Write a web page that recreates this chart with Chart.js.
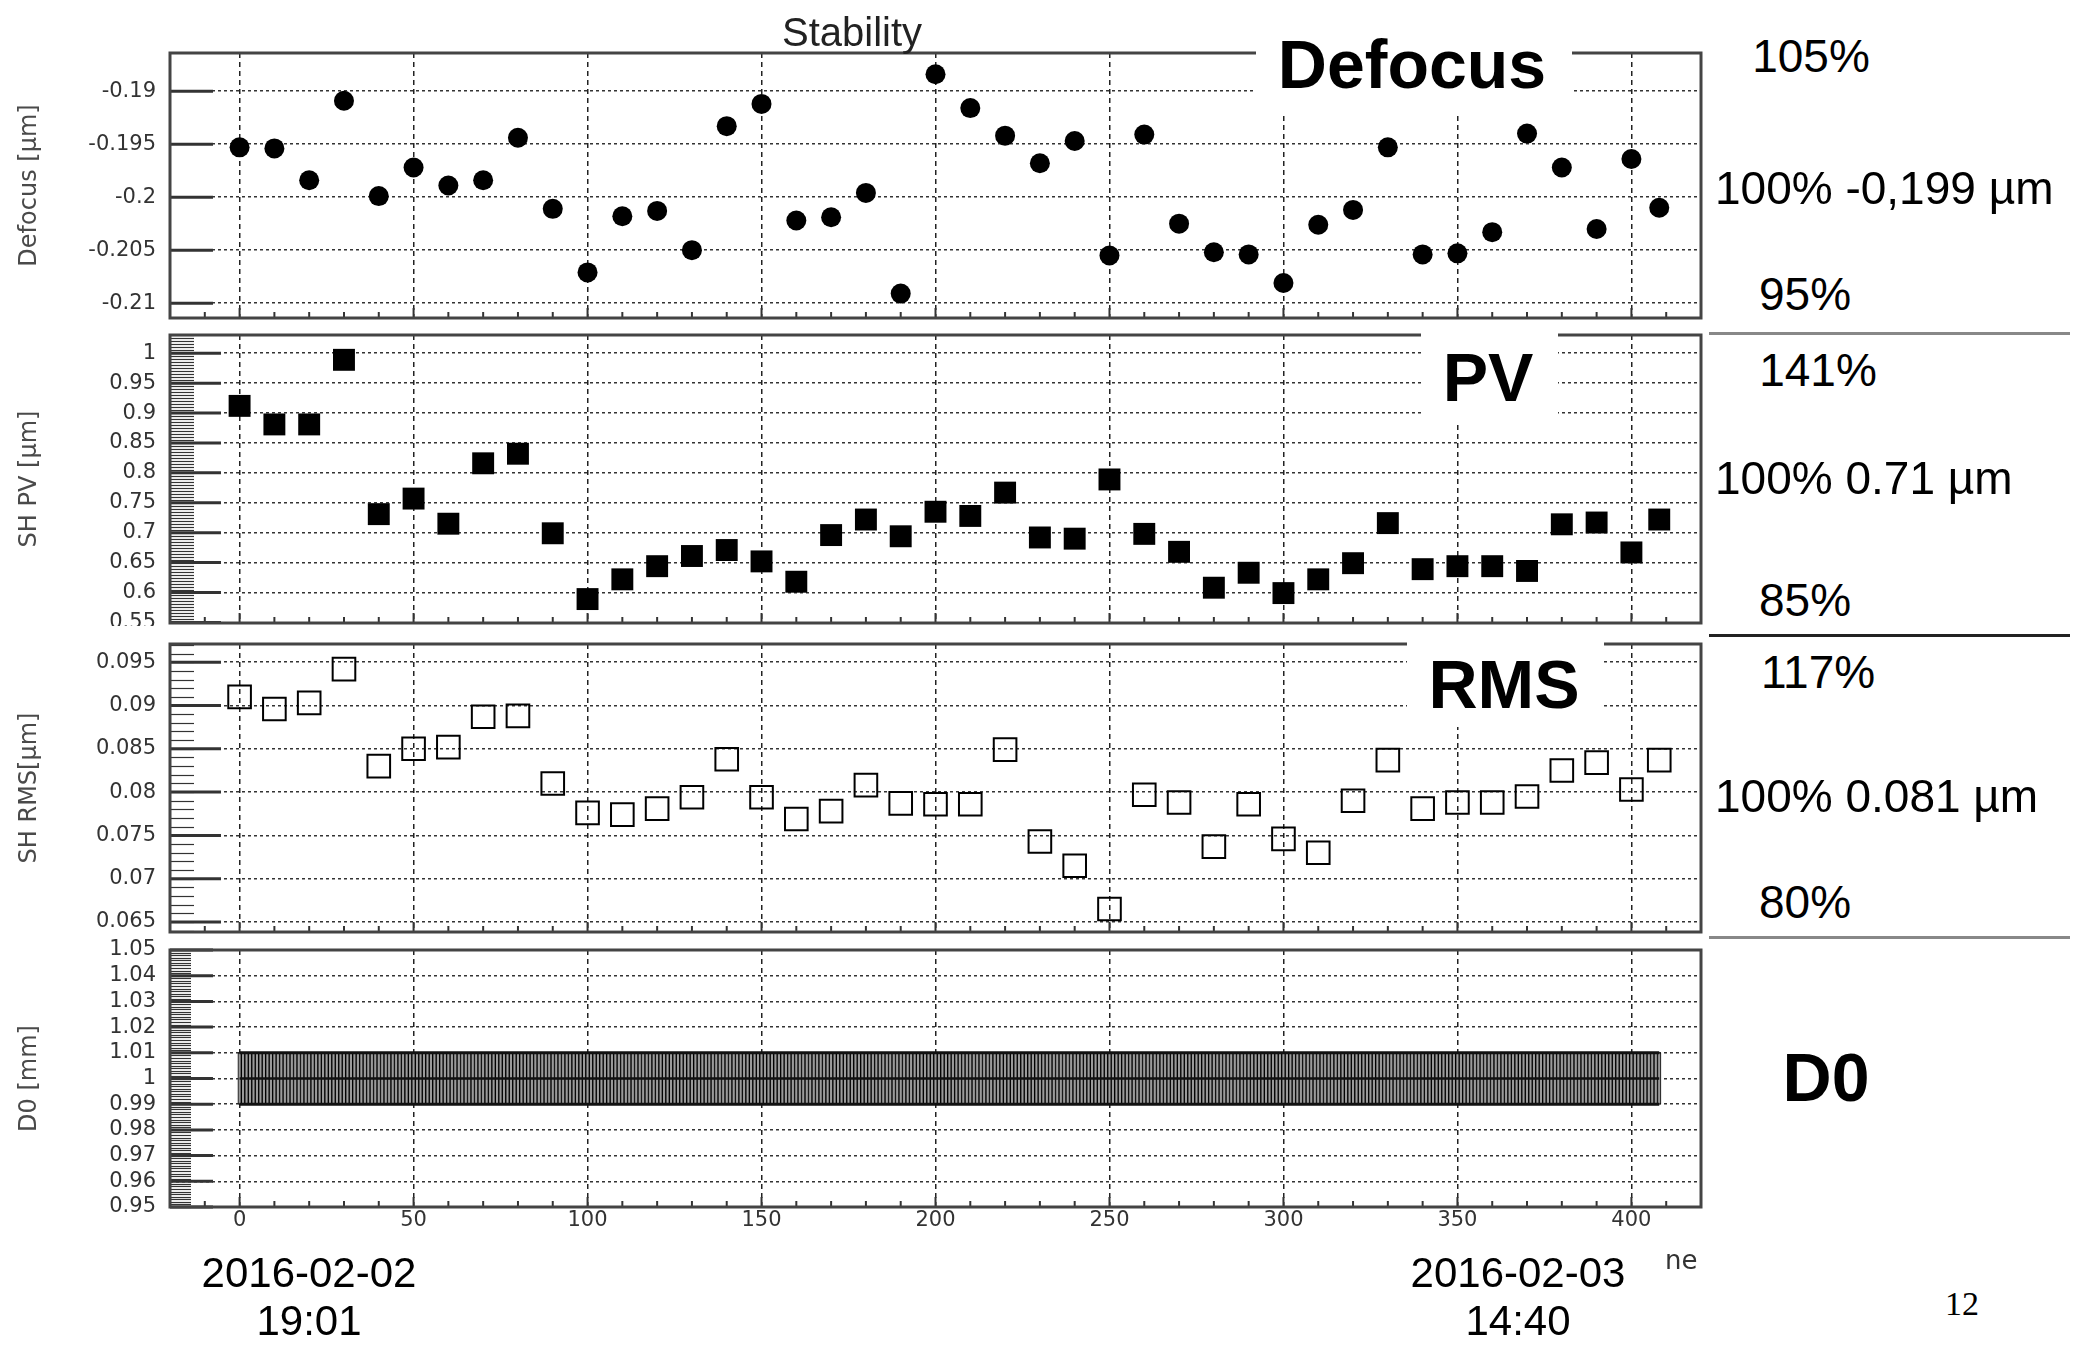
<!DOCTYPE html>
<html>
<head>
<meta charset="utf-8">
<script src="https://cdn.jsdelivr.net/npm/chart.js@4.4.1/dist/chart.umd.min.js"></script>
<style>
  body { margin: 0; background: #fff; width: 2078px; height: 1350px; position: relative; overflow: hidden;
         font-family: 'Liberation Sans', Arial, sans-serif; }
  canvas { position: absolute; left: 0; }
  .t { position: absolute; white-space: nowrap; color: #000; line-height: 1; transform: translate(-50%, -50%); }
  .l { position: absolute; white-space: nowrap; color: #000; line-height: 1; transform: translateY(-50%); }
  .box { position: absolute; background: #fff; }
  .big { font-weight: bold; font-size: 68px; }
  .ann { font-size: 46px; }
  .sep { position: absolute; height: 3px; background: #888; }
</style>
</head>
<body>
<canvas id="cDefocus" width="1720" height="305" style="top:33px"></canvas>
<canvas id="cPV" width="1720" height="328" style="top:315px"></canvas>
<canvas id="cRMS" width="1720" height="328" style="top:624px"></canvas>
<canvas id="cD0" width="1720" height="322" style="top:930px"></canvas>

<!-- pad edge hides the lower half of the last PV label, as in the original -->
<div class="box" style="left:40px; top:626px; width:128px; height:15px;"></div>

<div class="t" style="left:852px; top:32px; font-size:40px; color:#222;">Stability</div>

<div class="box" style="left:1256px; top:18px; width:316px; height:95px;"></div>
<div class="t big" style="left:1412px; top:64px;">Defocus</div>
<div class="box" style="left:1421px; top:322px; width:137px; height:100px;"></div>
<div class="t big" style="left:1488px; top:377px;">PV</div>
<div class="box" style="left:1407px; top:632px; width:197px; height:95px;"></div>
<div class="t big" style="left:1504px; top:684px;">RMS</div>
<div class="t big" style="left:1826px; top:1077px;">D0</div>

<div class="t ann" style="left:1811px; top:56px;">105%</div>
<div class="l ann" style="left:1715px; top:188px;">100% -0,199 µm</div>
<div class="t ann" style="left:1805px; top:294px;">95%</div>
<div class="sep" style="left:1709px; top:332px; width:361px;"></div>
<div class="t ann" style="left:1818px; top:370px;">141%</div>
<div class="l ann" style="left:1715px; top:478px;">100% 0.71 µm</div>
<div class="t ann" style="left:1805px; top:600px;">85%</div>
<div class="sep" style="left:1709px; top:634px; width:361px; background:#222;"></div>
<div class="t ann" style="left:1818px; top:672px;">117%</div>
<div class="l ann" style="left:1715px; top:796px;">100% 0.081 µm</div>
<div class="t ann" style="left:1805px; top:902px;">80%</div>
<div class="sep" style="left:1709px; top:936px; width:361px;"></div>

<div class="t" style="left:309px; top:1273px; font-size:42px;">2016-02-02</div>
<div class="t" style="left:309px; top:1321px; font-size:42px;">19:01</div>
<div class="t" style="left:1518px; top:1273px; font-size:42px;">2016-02-03</div>
<div class="t" style="left:1518px; top:1321px; font-size:42px;">14:40</div>
<div style="position:absolute; left:1665px; top:1253px; height:20px; overflow:hidden; width:44px;">
  <div style="font-family:'DejaVu Sans'; font-size:26px; line-height:26px; margin-top:-6px; color:#333;">ne</div>
</div>
<div class="t" style="left:1962px; top:1304px; font-size:34px; font-family:'Liberation Serif', serif;">12</div>

<script>
// measurement index (every 10th entry shown in the top three pads)
const timeIndex = [0, 10, 20, 30, 40, 50, 60, 70, 80, 90, 100, 110, 120, 130, 140, 150, 160, 170, 180, 190,
                   200, 210, 220, 230, 240, 250, 260, 270, 280, 290, 300, 310, 320, 330, 340, 350, 360, 370, 380, 390,
                   400, 408];

const defocus = [-0.1953, -0.1954, -0.1984, -0.1909, -0.1999, -0.1972, -0.1989, -0.1984, -0.1944, -0.2011,
                 -0.2071, -0.2018, -0.2013, -0.2050, -0.1933, -0.1912, -0.2022, -0.2019, -0.1996, -0.2091,
                 -0.1884, -0.1916, -0.1942, -0.1968, -0.1947, -0.2055, -0.1941, -0.2025, -0.2052, -0.2054,
                 -0.2081, -0.2026, -0.2012, -0.1953, -0.2054, -0.2053, -0.2033, -0.1940, -0.1972, -0.2030,
                 -0.1964, -0.2010];

const shPV = [0.912, 0.881, 0.881, 0.989, 0.731, 0.757, 0.715, 0.816, 0.832, 0.699,
              0.589, 0.622, 0.644, 0.661, 0.671, 0.652, 0.618, 0.696, 0.722, 0.694,
              0.735, 0.728, 0.767, 0.692, 0.690, 0.789, 0.698, 0.668, 0.608, 0.633,
              0.599, 0.622, 0.649, 0.716, 0.639, 0.644, 0.644, 0.636, 0.714, 0.717,
              0.667, 0.722];

const shRMS = [0.0910, 0.0896, 0.0903, 0.0942, 0.0830, 0.0850, 0.0852, 0.0887, 0.0888, 0.0810,
               0.0776, 0.0774, 0.0781, 0.0794, 0.0838, 0.0794, 0.0769, 0.0778, 0.0808, 0.0787,
               0.0786, 0.0786, 0.0849, 0.0743, 0.0715, 0.0665, 0.0797, 0.0788, 0.0737, 0.0786,
               0.0746, 0.0730, 0.0790, 0.0837, 0.0781, 0.0788, 0.0788, 0.0795, 0.0825, 0.0834,
               0.0803, 0.0837];

// D0, one value per measurement (index 0..408), error +-0.01
const d0Values = [
  1,1,1,1,1,1,1,1,1,1,1,1,1,1,1,1,1,1,1,1,
  1,1,1,1,1,1,1,1,1,1,1,1,1,1,1,1,1,1,1,1,
  1,1,1,1,1,1,1,1,1,1,1,1,1,1,1,1,1,1,1,1,
  1,1,1,1,1,1,1,1,1,1,1,1,1,1,1,1,1,1,1,1,
  1,1,1,1,1,1,1,1,1,1,1,1,1,1,1,1,1,1,1,1,
  1,1,1,1,1,1,1,1,1,1,1,1,1,1,1,1,1,1,1,1,
  1,1,1,1,1,1,1,1,1,1,1,1,1,1,1,1,1,1,1,1,
  1,1,1,1,1,1,1,1,1,1,1,1,1,1,1,1,1,1,1,1,
  1,1,1,1,1,1,1,1,1,1,1,1,1,1,1,1,1,1,1,1,
  1,1,1,1,1,1,1,1,1,1,1,1,1,1,1,1,1,1,1,1,
  1,1,1,1,1,1,1,1,1,1,1,1,1,1,1,1,1,1,1,1,
  1,1,1,1,1,1,1,1,1,1,1,1,1,1,1,1,1,1,1,1,
  1,1,1,1,1,1,1,1,1,1,1,1,1,1,1,1,1,1,1,1,
  1,1,1,1,1,1,1,1,1,1,1,1,1,1,1,1,1,1,1,1,
  1,1,1,1,1,1,1,1,1,1,1,1,1,1,1,1,1,1,1,1,
  1,1,1,1,1,1,1,1,1,1,1,1,1,1,1,1,1,1,1,1,
  1,1,1,1,1,1,1,1,1,1,1,1,1,1,1,1,1,1,1,1,
  1,1,1,1,1,1,1,1,1,1,1,1,1,1,1,1,1,1,1,1,
  1,1,1,1,1,1,1,1,1,1,1,1,1,1,1,1,1,1,1,1,
  1,1,1,1,1,1,1,1,1,1,1,1,1,1,1,1,1,1,1,1,
  1,1,1,1,1,1,1,1,1
];
const d0Error = 0.01;

// tick labels
const xTicks = [0, 50, 100, 150, 200, 250, 300, 350, 400];
const defocusTicks = [-0.21, -0.205, -0.2, -0.195, -0.19];
const pvTicks = [0.55, 0.6, 0.65, 0.7, 0.75, 0.8, 0.85, 0.9, 0.95, 1];
const rmsTicks = [0.065, 0.07, 0.075, 0.08, 0.085, 0.09, 0.095];
const d0Ticks = [0.95, 0.96, 0.97, 0.98, 0.99, 1, 1.01, 1.02, 1.03, 1.04, 1.05];

const tickFont = { family: 'DejaVu Sans', size: 21 };
const fmt = v => String(Number(v.toFixed(4)));

// ROOT-like frame with ticks drawn inside the pad
const frameTicks = {
  id: 'frameTicks',
  afterDraw(chart, args, opts) {
    const { ctx, chartArea: a, scales: { x, y } } = chart;
    ctx.save();
    ctx.strokeStyle = '#333';
    ctx.lineWidth = 2;
    for (let k = -1; k <= 41; k++) {
      const px = x.getPixelForValue(k * 10);
      const len = k % 5 === 0 ? 10 : 6;
      ctx.beginPath(); ctx.moveTo(px, a.bottom); ctx.lineTo(px, a.bottom - len); ctx.stroke();
    }
    if (opts.minor) {
      ctx.lineWidth = 1.2;
      const k0 = Math.ceil(y.min / opts.minor - 1e-6), k1 = Math.floor(y.max / opts.minor + 1e-6);
      for (let k = k0; k <= k1; k++) {
        const py = Math.round(y.getPixelForValue(k * opts.minor)) + 0.5;
        ctx.beginPath(); ctx.moveTo(a.left, py); ctx.lineTo(a.left + opts.minorLen, py); ctx.stroke();
      }
    }
    ctx.lineWidth = 3;
    y.ticks.forEach(t => {
      const py = y.getPixelForValue(t.value);
      ctx.beginPath(); ctx.moveTo(a.left, py); ctx.lineTo(a.left + opts.majorLen, py); ctx.stroke();
    });
    ctx.strokeStyle = '#444';
    ctx.strokeRect(a.left, a.top, a.right - a.left, a.bottom - a.top);
    ctx.restore();
  }
};

function makePanel(cfg) {
  return new Chart(document.getElementById(cfg.id), {
    type: cfg.type || 'scatter',
    data: { datasets: cfg.datasets },
    options: {
      responsive: false,
      animation: false,
      layout: { padding: { left: 0, right: 19, top: 20, bottom: cfg.padBottom } },
      plugins: {
        legend: { display: false },
        tooltip: { enabled: false },
        frameTicks: { minor: cfg.minor, minorLen: cfg.minorLen, majorLen: cfg.majorLen }
      },
      scales: {
        x: {
          type: 'linear', min: -20, max: 420, offset: false,
          afterBuildTicks: s => { s.ticks = xTicks.map(v => ({ value: v })); },
          afterFit: s => { s.height = cfg.xHeight; s.paddingLeft = 0; s.paddingRight = 0; },
          grid: { color: '#222', lineWidth: 1.5, drawTicks: false, offset: false },
          border: { display: false, dash: [5, 4] },
          ticks: { display: !!cfg.showX, font: tickFont, color: '#333', padding: 1, maxRotation: 0, autoSkip: false,
                   callback: v => v }
        },
        y: {
          type: 'linear', min: cfg.yMin, max: cfg.yMax,
          afterBuildTicks: s => { s.ticks = cfg.yTicks.map(v => ({ value: v })); },
          afterFit: s => { s.width = 170; s.paddingTop = 0; s.paddingBottom = 0; },
          grid: { color: '#333', lineWidth: 1.5, drawTicks: false },
          border: { display: false, dash: [3, 3] },
          ticks: { font: tickFont, color: '#333', padding: 14, autoSkip: false, callback: v => fmt(v) },
          title: { display: true, text: cfg.title, color: '#4a4a4a',
                   font: { family: 'DejaVu Sans', size: 24 }, padding: { top: 15, bottom: 0 } }
        }
      }
    },
    plugins: [frameTicks]
  });
}

const pts = vals => timeIndex.map((t, i) => ({ x: t, y: vals[i] }));

makePanel({
  id: 'cDefocus', yMin: -0.2114, yMax: -0.1864, yTicks: defocusTicks, title: 'Defocus [µm]',
  padBottom: 20, xHeight: 0, majorLen: 43,
  datasets: [{ data: pts(defocus), pointStyle: 'circle', pointRadius: 10, backgroundColor: '#000', borderWidth: 0 }]
});

makePanel({
  id: 'cPV', yMin: 0.549, yMax: 1.0305, yTicks: pvTicks, title: 'SH PV [µm]',
  padBottom: 20, xHeight: 0, majorLen: 51, minor: 0.005, minorLen: 24,
  datasets: [{ data: pts(shPV), pointStyle: 'rect', pointRadius: 15.5, backgroundColor: '#000', borderWidth: 0 }]
});

makePanel({
  id: 'cRMS', yMin: 0.06385, yMax: 0.0971, yTicks: rmsTicks, title: 'SH RMS[µm]',
  padBottom: 20, xHeight: 0, majorLen: 51, minor: 0.001, minorLen: 24,
  datasets: [{ data: pts(shRMS), pointStyle: 'rect', pointRadius: 16, backgroundColor: 'rgba(0,0,0,0)',
               borderColor: '#000', borderWidth: 2 }]
});

makePanel({
  id: 'cD0', type: 'bar', yMin: 0.95, yMax: 1.05, yTicks: d0Ticks, title: 'D0 [mm]',
  padBottom: 0, xHeight: 45, showX: true, majorLen: 43, minor: 0.001, minorLen: 21,
  datasets: [
    { type: 'line', order: 0, data: d0Values.map((v, i) => ({ x: i, y: v })),
      borderColor: '#111', borderWidth: 2.5, pointRadius: 0 },
    { type: 'line', order: 0, data: d0Values.map((v, i) => ({ x: i, y: v + d0Error })),
      borderColor: '#111', borderWidth: 3, pointRadius: 0 },
    { type: 'line', order: 0, data: d0Values.map((v, i) => ({ x: i, y: v - d0Error })),
      borderColor: '#111', borderWidth: 3, pointRadius: 0 },
    { type: 'bar', order: 1, data: d0Values.map((v, i) => ({ x: i, y: [v - d0Error, v + d0Error] })),
      backgroundColor: '#9a9a9a', borderColor: '#000', borderWidth: 1, borderSkipped: false,
      barPercentage: 1, categoryPercentage: 1, grouped: false }
  ]
});
</script>
</body>
</html>
